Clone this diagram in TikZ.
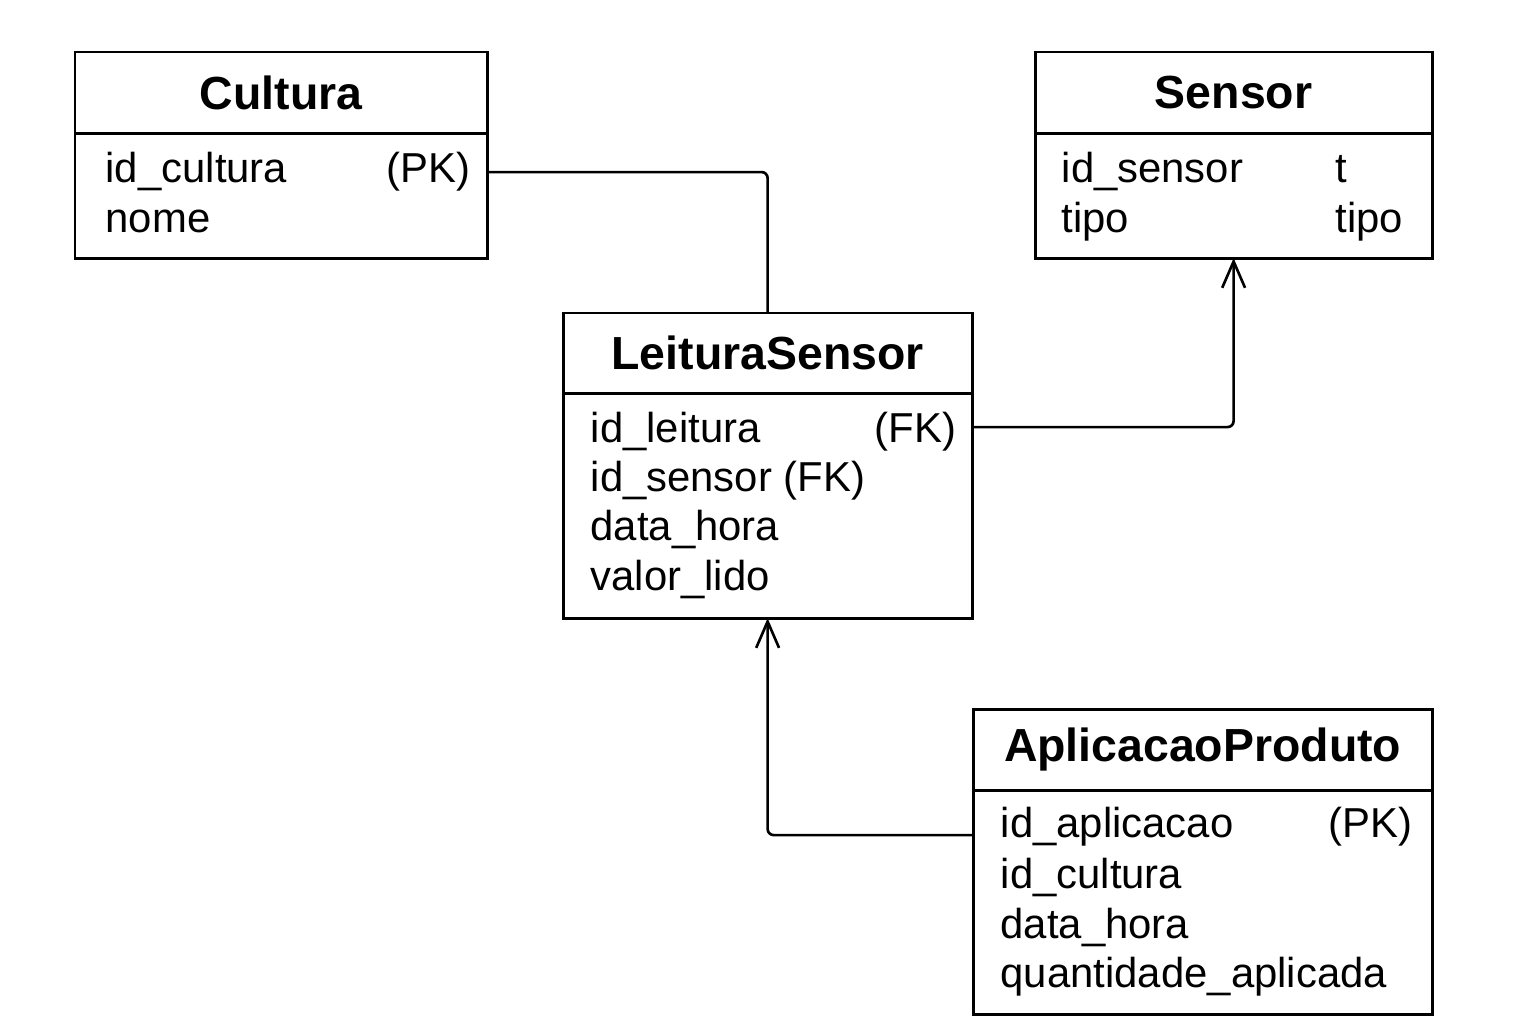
\documentclass[tikz,border=0pt]{standalone}
\usepackage{fontspec}
\setmainfont{Liberation Sans}
\usetikzlibrary{arrows.meta}

\begin{document}
\begin{tikzpicture}[x=0.01cm, y=-0.01cm,
    head/.style={draw, line width=0.85pt, anchor=north west, inner sep=0pt, outer sep=0pt,
      font=\fontsize{13.2}{16}\selectfont\bfseries},
    body/.style={draw, line width=0.85pt, anchor=north, inner sep=0pt, outer sep=0pt},
    attr/.style={anchor=base west, inner sep=0pt, font=\fontsize{11.9}{14}\selectfont},
    key/.style={attr, anchor=base east},
    link/.style={line width=0.75pt, rounded corners=0.06cm},
    fk/.style={link, -{Straight Barb[length=7.5pt, width=6.5pt]}}]
  \useasboundingbox (0,0) rectangle (1536,1024);

  \node[head, minimum width=4.12cm, minimum height=0.81cm] (cultura) at (75,52) {Cultura};
  \node[body, minimum width=4.12cm, minimum height=1.25cm] (culturaB) at (cultura.south) {};
  \node[attr] (culturaId) at (105,182) {id\_cultura};
  \node[key] (culturaPk) at (471,182) {(PK)};
  \node[attr] (culturaNome) at (105,232) {nome};

  \node[head, minimum width=3.97cm, minimum height=0.81cm] (sensor) at (1035,52) {Sensor};
  \node[body, minimum width=3.97cm, minimum height=1.25cm] (sensorB) at (sensor.south) {};
  \node[attr] (sensorId) at (1061,182) {id\_sensor};
  \node[attr] (sensorT) at (1335,182) {t};
  \node[attr] (sensorTipo) at (1061,232) {tipo};
  \node[attr] (sensorTipoB) at (1335,232) {tipo};

  \node[head, minimum width=4.09cm, minimum height=0.80cm] (leitura) at (563,313) {LeituraSensor};
  \node[body, minimum width=4.09cm, minimum height=2.25cm] (leituraB) at (leitura.south) {};
  \node[attr] (leituraId) at (590,442) {id\_leitura};
  \node[key] (leituraFk) at (957,442) {(FK)};
  \node[attr] (leituraSensor) at (590,491) {id\_sensor (FK)};
  \node[attr] (leituraData) at (590,540) {data\_hora};
  \node[attr] (leituraValor) at (590,590) {valor\_lido};

  \node[head, minimum width=4.59cm, minimum height=0.81cm] (aplic) at (973,709) {AplicacaoProduto};
  \node[body, minimum width=4.59cm, minimum height=2.24cm] (aplicB) at (aplic.south) {};
  \node[attr] (aplicId) at (1000,837) {id\_aplicacao};
  \node[key] (aplicPk) at (1413,837) {(PK)};
  \node[attr] (aplicCultura) at (1000,888) {id\_cultura};
  \node[attr] (aplicData) at (1000,938) {data\_hora};
  \node[attr] (aplicQtd) at (1000,987) {quantidade\_aplicada};

  \draw[link] ([yshift=0.235cm]culturaB.east) -| (leitura.north);
  \draw[fk] ([yshift=0.785cm]leituraB.east) -| (sensorB.south);
  \draw[fk] ([yshift=0.67cm]aplicB.west) -| (leituraB.south);

\end{tikzpicture}
\end{document}
